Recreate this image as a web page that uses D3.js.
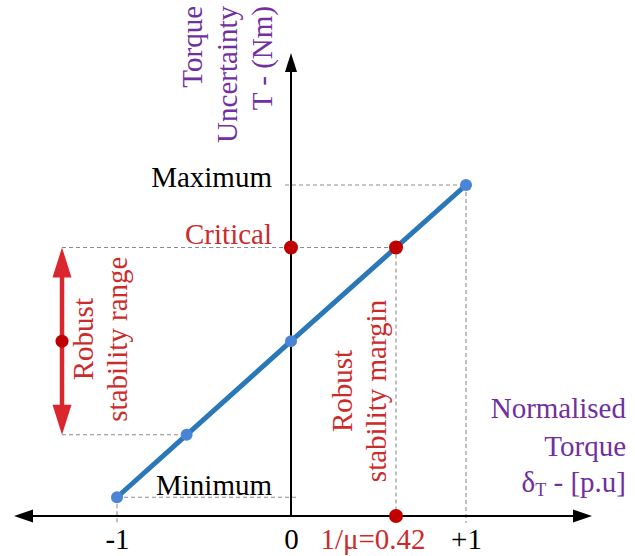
<!DOCTYPE html>
<html>
<head>
<meta charset="utf-8">
<script src="https://cdn.jsdelivr.net/npm/d3@7"></script>
<style>
  body { margin: 0; background: #fff; }
  svg { display: block; }
  text { font-family: "Liberation Serif", "Times New Roman", serif; }
</style>
</head>
<body>
<svg id="chart" width="635" height="556"></svg>
<script>
// Normalised torque δT (x) against torque uncertainty T (y, normalised: -1 = minimum, +1 = maximum)
const deltaTicks = [-1, 0, 1];
const deltaTickLabels = ["-1", "0", "+1"];
const inverseMu = 0.42;                       // robust stability margin 1/μ
const curveDelta = [-1, -0.6, 0, inverseMu, 1];
const curveT = [-1, -0.6, 0, 0.6, 1];
const levelNames = ["Maximum", "Critical", "Minimum"];
const levelValues = [1, 0.6, -1];
const rangeLow = -0.6;                        // lower end of the robust stability range
const rangeHigh = 0.6;                        // critical uncertainty level
const axisOrigin = -1.12;                     // T value where the δT axis is drawn

const PURPLE = "#7030a0", RED_TEXT = "#cc2b2b", RED_DOT = "#c00000",
      RED_ARROW = "#d9272d", LINE_BLUE = "#2a78b8", DOT_BLUE = "#4a84d6",
      DASH = "#8c8c8c", FONT = 29;

const svg = d3.select("#chart");

// δT scale: schematic, with the 1/μ point placed where the line meets the critical level
const x = d3.scaleLinear().domain([-1, 0, inverseMu, 1]).range([117, 291, 396, 466]);
const y = d3.scaleLinear().domain([axisOrigin, 1]).range([516, 185]);
const y0 = y(axisOrigin), x0 = x(0);

// ---- dashed guide lines ----
const dash = (x1, y1, x2, y2) => svg.append("line")
  .attr("x1", x1).attr("y1", y1).attr("x2", x2).attr("y2", y2)
  .attr("stroke", DASH).attr("stroke-width", 1.1).attr("stroke-dasharray", "4,3");

const arrowX = 62;
dash(arrowX, y(rangeHigh), x(inverseMu), y(rangeHigh));            // critical level
dash(arrowX, y(rangeLow), x(-0.6), y(rangeLow));                   // lower range level
dash(x0 - 6, y(1), x(1), y(1));                                    // maximum
dash(x(-1), y(-1), x0 + 6, y(-1));                                 // minimum
dash(x(inverseMu), y(rangeHigh), x(inverseMu), y0);                // margin drop
dash(x(1), y(1), x(1), y0 + 7);                                    // +1 tick
dash(x(-1), y(-1), x(-1), y0 + 7);                                 // -1 tick

// ---- axes ----
const axisG = svg.append("g");
axisG.append("line").attr("x1", 24).attr("x2", 582).attr("y1", y0).attr("y2", y0)
  .attr("stroke", "#000").attr("stroke-width", 2);
axisG.append("path").attr("d", `M14,${y0} L33,${y0 - 6.5} L33,${y0 + 6.5} Z`).attr("fill", "#000");
axisG.append("path").attr("d", `M592,${y0} L573,${y0 - 6.5} L573,${y0 + 6.5} Z`).attr("fill", "#000");
axisG.append("line").attr("x1", x0).attr("x2", x0).attr("y1", y0).attr("y2", 64)
  .attr("stroke", "#000").attr("stroke-width", 2);
axisG.append("path").attr("d", `M${x0},53 L${x0 - 6},72 L${x0 + 6},72 Z`).attr("fill", "#000");

// tick labels through d3's bottom axis (domain line and tick lines hidden)
const xAxis = d3.axisBottom(x).tickValues(deltaTicks)
  .tickFormat((d, i) => deltaTickLabels[i]).tickSize(0).tickPadding(12);
const gx = svg.append("g").attr("transform", `translate(0,${y0})`).call(xAxis);
gx.select(".domain").remove();
gx.selectAll("text").attr("font-size", FONT).attr("fill", "#000")
  .attr("font-family", "Liberation Serif, Times New Roman, serif");

// 1/μ label
svg.append("text").attr("x", x(inverseMu) - 23).attr("y", 549)
  .attr("text-anchor", "middle").attr("font-size", FONT).attr("fill", RED_TEXT)
  .text(`1/μ=${inverseMu}`);

// ---- level labels ----
const levelColors = ["#000", RED_TEXT, "#000"];
const levelBaselineShift = [2, -3, -2];
levelNames.forEach((name, i) => {
  svg.append("text").attr("x", 272).attr("y", y(levelValues[i]) + levelBaselineShift[i])
    .attr("text-anchor", "end").attr("font-size", FONT).attr("fill", levelColors[i]).text(name);
});

// ---- axis titles ----
const yTitle = ["Torque", "Uncertainty", "T - (Nm)"];
yTitle.forEach((t, i) => {
  svg.append("text").attr("transform", `translate(${202 + i * 35},6) rotate(-90)`)
    .attr("text-anchor", "end").attr("font-size", FONT).attr("fill", PURPLE).text(t);
});

const xTitle = svg.append("g").attr("font-size", FONT).attr("fill", PURPLE).attr("text-anchor", "end");
xTitle.append("text").attr("x", 626).attr("y", 418).text("Normalised");
xTitle.append("text").attr("x", 626).attr("y", 456).text("Torque");
const dt = xTitle.append("text").attr("x", 626).attr("y", 492);
dt.append("tspan").text("δ");
dt.append("tspan").attr("font-size", 18).attr("dy", 4).text("T");
dt.append("tspan").attr("dy", -4).text(" - [p.u]");

// ---- rotated annotations ----
const rotatedPair = (lines, bx, cy, gap) => lines.forEach((t, i) => {
  svg.append("text").attr("transform", `translate(${bx + i * gap},${cy}) rotate(-90)`)
    .attr("text-anchor", "middle").attr("font-size", FONT).attr("fill", RED_TEXT).text(t);
});
rotatedPair(["Robust", "stability range"], 93, y(0) - 2, 34);
rotatedPair(["Robust", "stability margin"], 352, 391, 34);

// ---- robust stability range double arrow ----
const rangeTop = y(rangeHigh), rangeBot = y(rangeLow), headL = 30, headW = 9.5;
svg.append("line").attr("x1", arrowX).attr("x2", arrowX)
  .attr("y1", rangeTop + headL - 2).attr("y2", rangeBot - headL + 2)
  .attr("stroke", RED_ARROW).attr("stroke-width", 4.5);
svg.append("path").attr("d",
  `M${arrowX},${rangeTop} L${arrowX - headW},${rangeTop + headL} L${arrowX + headW},${rangeTop + headL} Z` +
  `M${arrowX},${rangeBot} L${arrowX - headW},${rangeBot - headL} L${arrowX + headW},${rangeBot - headL} Z`)
  .attr("fill", RED_ARROW);
svg.append("circle").attr("cx", arrowX).attr("cy", y(0)).attr("r", 6.5).attr("fill", RED_DOT);

// ---- uncertainty line and points ----
const pts = curveDelta.map((d, i) => [d, curveT[i]]);
svg.append("path").datum(pts)
  .attr("d", d3.line().x(d => x(d[0])).y(d => y(d[1])))
  .attr("fill", "none").attr("stroke", LINE_BLUE).attr("stroke-width", 5);

svg.selectAll("circle.pt").data(pts.filter(d => d[0] !== inverseMu)).enter()
  .append("circle").attr("class", "pt")
  .attr("cx", d => x(d[0])).attr("cy", d => y(d[1])).attr("r", 6)
  .attr("fill", DOT_BLUE);

// red markers: critical point, critical level on the T axis, and 1/μ on the δT axis
const redPts = [[inverseMu, rangeHigh], [0, rangeHigh], [inverseMu, axisOrigin]];
svg.selectAll("circle.red").data(redPts).enter()
  .append("circle").attr("class", "red")
  .attr("cx", d => x(d[0])).attr("cy", d => y(d[1])).attr("r", 7)
  .attr("fill", RED_DOT);
</script>
</body>
</html>
